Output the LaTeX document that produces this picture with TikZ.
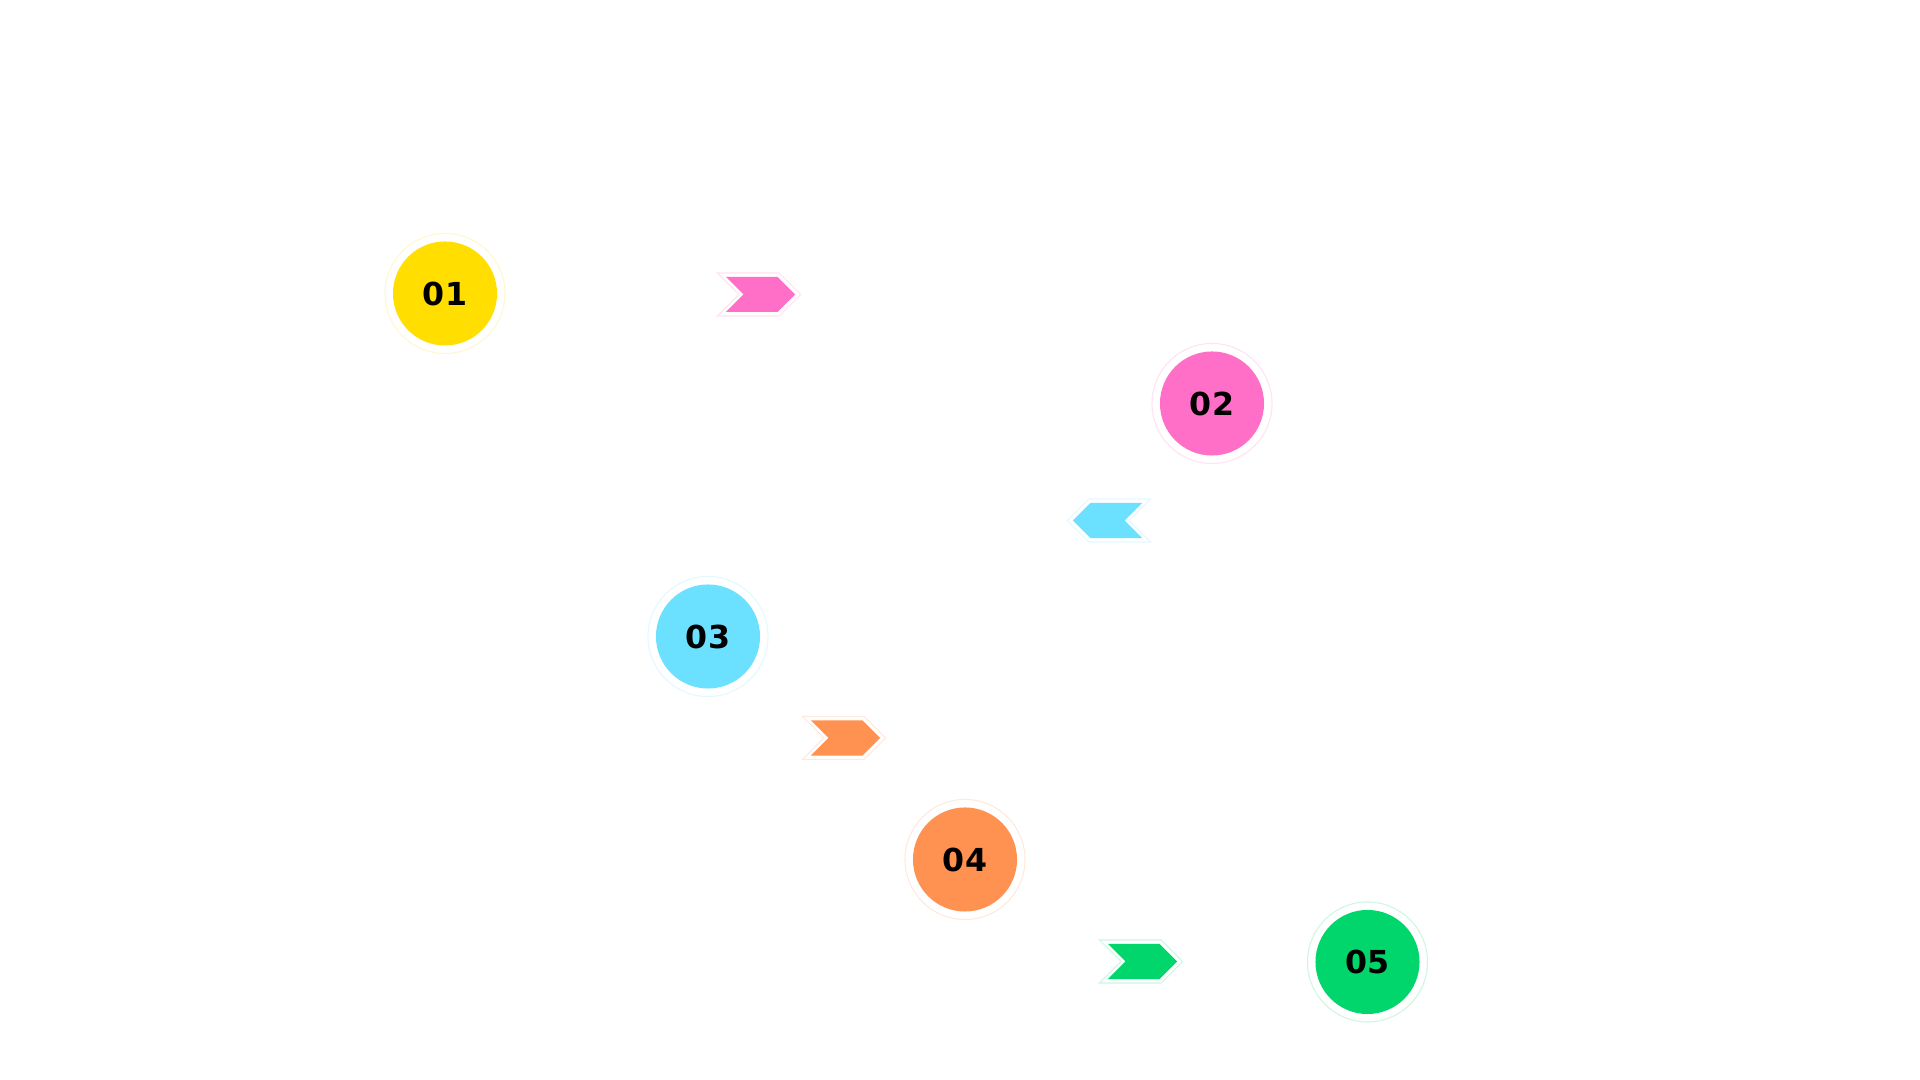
\documentclass[tikz,border=0pt]{standalone}
\usepackage{fontspec}
\newfontfamily\numfont{DejaVu Sans}
\usepackage{tikz}
\usetikzlibrary{positioning,shapes.symbols}

\definecolor{stepyellow}{HTML}{FFDE00}
\definecolor{steppink}{HTML}{FF6EC7}
\definecolor{stepcyan}{HTML}{6CE0FF}
\definecolor{steporange}{HTML}{FF9151}
\definecolor{stepgreen}{HTML}{00D66C}

\begin{document}
\begin{tikzpicture}[
    x=0.01cm, y=-0.01cm,
    numdot/.style={circle, minimum size=1.04cm, inner sep=0pt, font=\numfont\bfseries\fontsize{9}{10}\selectfont},
    ring/.style={circle, minimum size=1.20cm, inner sep=0pt, line width=0.3pt},
    chev/.style={signal, signal pointer angle=90, minimum width=0.69cm, minimum height=0.35cm, inner sep=0pt},
    chevout/.style={signal, signal pointer angle=90, minimum width=0.83cm, minimum height=0.43cm, inner sep=0pt, fill=white, line width=0.3pt},
]
\fill[white] (0,0) rectangle (1920,1080);
\useasboundingbox (0,0) rectangle (1920,1080);

% Steps
\node[ring, draw=stepyellow!20] (r1) at (445,293.5) {};
\node[numdot, fill=stepyellow] (n1) at (r1) {01};

\node[ring, draw=steppink!20] (r2) at (1212,403.5) {};
\node[numdot, fill=steppink] (n2) at (r2) {02};

\node[ring, draw=stepcyan!20] (r3) at (708,636.5) {};
\node[numdot, fill=stepcyan] (n3) at (r3) {03};

\node[ring, draw=steporange!20] (r4) at (965,859.5) {};
\node[numdot, fill=steporange] (n4) at (r4) {04};

\node[ring, draw=stepgreen!20] (r5) at (1367.5,962) {};
\node[numdot, fill=stepgreen] (n5) at (r5) {05};

% Chevrons
\node[chevout, draw=steppink!20, signal from=west, signal to=east] (o1) at (759,294.5) {};
\node[chev, fill=steppink, signal from=west, signal to=east] (a1) at (760.5,294.5) {};

\node[chevout, draw=stepcyan!20, signal from=east, signal to=west] (o2) at (1109,520.5) {};
\node[chev, fill=stepcyan, signal from=east, signal to=west] (a2) at (1107.5,520.5) {};

\node[chevout, draw=steporange!20, signal from=west, signal to=east] (o3) at (844,738) {};
\node[chev, fill=steporange, signal from=west, signal to=east] (a3) at (845.5,738) {};

\node[chevout, draw=stepgreen!20, signal from=west, signal to=east] (o4) at (1141,961.5) {};
\node[chev, fill=stepgreen, signal from=west, signal to=east] (a4) at (1142.5,961.5) {};

\end{tikzpicture}
\end{document}
